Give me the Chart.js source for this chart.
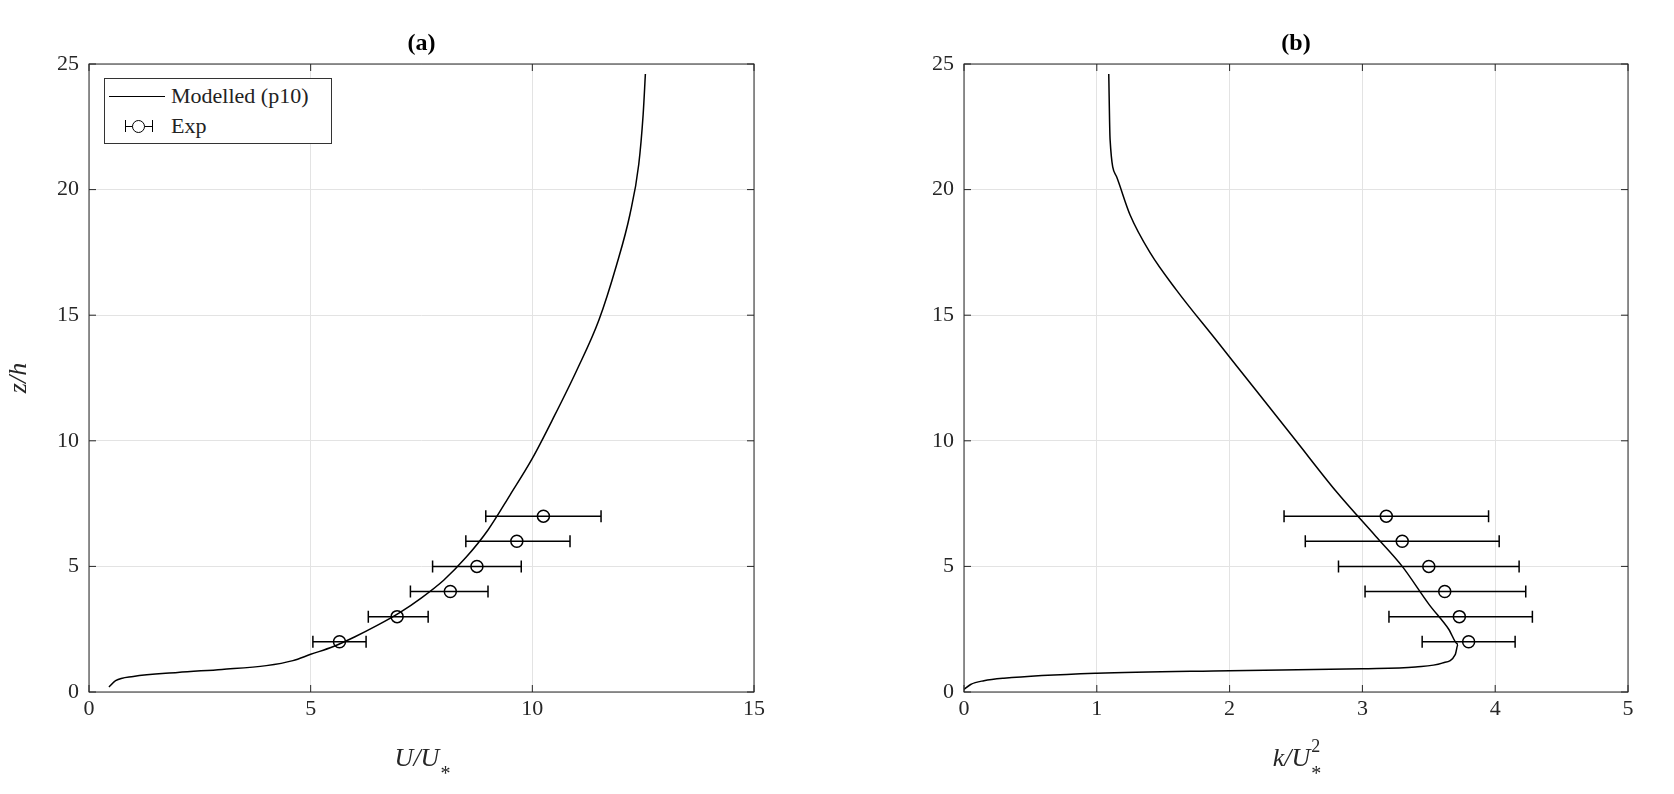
<!DOCTYPE html>
<html>
<head>
<meta charset="utf-8">
<script src="https://cdn.jsdelivr.net/npm/chart.js@4.4.1/dist/chart.umd.min.js"></script>
<style>
body { margin:0; background:#fff; width:1674px; height:794px; overflow:hidden; font-family:"Liberation Serif", serif; }
.panel { position:absolute; top:0; height:794px; }
#legend { position:absolute; left:104px; top:78px; width:226px; height:64px; border:1px solid #333; background:#fff; font-size:22px; color:#222; }
#legend div { position:relative; height:30px; line-height:30px; padding-left:66px; }
</style>
</head>
<body>
<div class="panel" style="left:0;width:800px"><canvas id="ca"></canvas></div>
<div class="panel" style="left:875px;width:799px"><canvas id="cb"></canvas></div>
<div id="legend">
  <div style="margin-top:2px"><span style="position:absolute;left:4px;top:15px;width:56px;border-top:1.5px solid #000"></span>Modelled (p10)</div>
  <div><span style="position:absolute;left:20px;top:15px;width:28px;border-top:1.5px solid #000"></span><span style="position:absolute;left:20px;top:9px;height:12px;border-left:1.5px solid #000"></span><span style="position:absolute;left:47px;top:9px;height:12px;border-left:1.5px solid #000"></span><span style="position:absolute;left:27px;top:9px;width:11px;height:11px;border:1.5px solid #000;border-radius:50%;background:#fff"></span>Exp</div>
</div>
<script>
// modelled profiles (x value, z/h)
var uModelX = [0.45,0.6,1,2,3,4,4.6,5,5.5,6,6.5,7,7.5,8,8.5,9,9.5,10,10.5,11,11.5,11.9,12.2,12.4,12.5,12.55];
var uModelZ = [0.2,0.45,0.62,0.78,0.9,1.05,1.25,1.5,1.8,2.2,2.65,3.15,3.75,4.45,5.35,6.45,7.85,9.3,11,12.8,14.8,17,19,21,23,24.6];
var kModelX = [0,0.05,0.15,0.3,1,2,3,3.4,3.6,3.7,3.72,3.65,3.5,3.3,3.1,2.8,2.5,2.2,1.9,1.6,1.4,1.25,1.15,1.1,1.09];
var kModelZ = [0.1,0.3,0.45,0.55,0.75,0.85,0.93,1.0,1.15,1.5,1.9,2.5,3.5,5,6.2,8,10,12,14,16,17.5,19,20.5,22,24.6];
// experiment
var expZ = [2,3,4,5,6,7];
var uExp = [5.65,6.95,8.15,8.75,9.65,10.25];
var uLo = [5.05,6.3,7.25,7.75,8.5,8.95];
var uHi = [6.25,7.65,9.0,9.75,10.85,11.55];
var kExp = [3.8,3.73,3.62,3.5,3.3,3.18];
var kLo = [3.45,3.2,3.02,2.82,2.57,2.41];
var kHi = [4.15,4.28,4.23,4.18,4.03,3.95];

function pts(xs, ys) { return xs.map(function(x, i) { return {x: x, y: ys[i]}; }); }

var frame = {
  id: 'frame',
  beforeDatasetsDraw: function(chart) {
    var c = chart.ctx, a = chart.chartArea, xs = chart.scales.x, ys = chart.scales.y;
    var o = chart.options.plugins.frame;
    c.save();
    c.strokeStyle = '#000'; c.lineWidth = 1.5;
    for (var i = 0; i < o.lo.length; i++) {
      var y = ys.getPixelForValue(expZ[i]);
      var x1 = xs.getPixelForValue(o.lo[i]), x2 = xs.getPixelForValue(o.hi[i]);
      c.beginPath();
      c.moveTo(x1, y); c.lineTo(x2, y);
      c.moveTo(x1, y - 6); c.lineTo(x1, y + 6);
      c.moveTo(x2, y - 6); c.lineTo(x2, y + 6);
      c.stroke();
    }
    c.restore();
  },
  afterDraw: function(chart) {
    var c = chart.ctx, a = chart.chartArea, xs = chart.scales.x, ys = chart.scales.y;
    var o = chart.options.plugins.frame;
    c.save();
    c.strokeStyle = '#262626'; c.lineWidth = 1;
    c.strokeRect(a.left, a.top, a.right - a.left, a.bottom - a.top);
    // inner ticks on all four sides
    c.beginPath();
    xs.ticks.forEach(function(t) { var x = xs.getPixelForValue(t.value);
      c.moveTo(x, a.bottom); c.lineTo(x, a.bottom - 7); c.moveTo(x, a.top); c.lineTo(x, a.top + 7); });
    ys.ticks.forEach(function(t) { var y = ys.getPixelForValue(t.value);
      c.moveTo(a.left, y); c.lineTo(a.left + 7, y); c.moveTo(a.right, y); c.lineTo(a.right - 7, y); });
    c.stroke();
    c.fillStyle = '#000';
    c.font = 'bold 24px "Liberation Serif"';
    c.textAlign = 'center';
    c.fillText(o.title, (a.left + a.right) / 2, 50);
    c.font = 'italic 26px "Liberation Serif"';
    c.fillStyle = '#262626';
    c.textAlign = 'left';
    var w = c.measureText(o.xlab).width + 14;
    var x0 = (a.left + a.right) / 2 - w / 2;
    c.fillText(o.xlab, x0, 766);
    c.font = '20px "Liberation Serif"';
    c.fillText('*', x0 + c.measureText ? x0 + w - 14 - 0 + 2 - x0 + x0 - x0 + 0 : 0, 0);
    c.restore();
  }
};

function sub(chart) {}

function makeChart(id, modelX, modelZ, ex, lo, hi, xmax, xstep, title, xlab, sup) {
  new Chart(document.getElementById(id), {
    type: 'scatter',
    data: { datasets: [
      { data: pts(modelX, modelZ), showLine: true, borderColor: '#000', borderWidth: 1.5, pointRadius: 0, tension: 0.4, cubicInterpolationMode: 'monotone' },
      { data: pts(ex, expZ), pointRadius: 6, pointBackgroundColor: 'rgba(255,255,255,0)', pointBorderColor: '#000', pointBorderWidth: 1.5 }
    ]},
    options: {
      responsive: false, animation: false,
      layout: { padding: { left: 0, right: 46, top: 64, bottom: 0 } },
      plugins: { legend: { display: false }, tooltip: { enabled: false },
        frame: { lo: lo, hi: hi, title: title, xlab: xlab, sup: sup } },
      scales: {
        x: { min: 0, max: xmax, ticks: { stepSize: xstep, color: '#262626', font: { family: 'Liberation Serif', size: 22 }, padding: 4 },
             grid: { color: '#e3e3e3', drawTicks: false }, border: { display: false },
             afterFit: function(s) { s.height = 102; } },
        y: { min: 0, max: 25, ticks: { stepSize: 5, color: '#262626', font: { family: 'Liberation Serif', size: 22 }, padding: 10 },
             grid: { color: '#e3e3e3', drawTicks: false }, border: { display: false },
             title: { display: id === 'ca', text: 'z/h', color: '#262626', font: { family: 'Liberation Serif', size: 26, style: 'italic' } },
             afterFit: function(s) { s.width = 89; } }
      }
    },
    plugins: [frame, {
      id: 'xlab',
      afterDraw: function(chart) {
        var c = chart.ctx, a = chart.chartArea;
        c.save();
        c.fillStyle = '#262626';
        c.font = 'italic 26px "Liberation Serif"';
        var w1 = c.measureText(xlab).width;
        c.font = '18px "Liberation Serif"';
        var w2 = c.measureText(sup ? '2' : '*').width;
        var x0 = (a.left + a.right) / 2 - (w1 + w2) / 2;
        c.clearRect(x0 - 5, 740, w1 + w2 + 30, 50);
        c.font = 'italic 26px "Liberation Serif"';
        c.textAlign = 'left';
        c.fillText(xlab, x0, 766);
        c.font = '20px "Liberation Serif"';
        c.fillText('*', x0 + w1 + 1, 780);
        if (sup) { c.font = '18px "Liberation Serif"'; c.fillText('2', x0 + w1 + 1, 752); }
        c.restore();
      }
    }]
  });
}

document.getElementById('ca').width = 800; document.getElementById('ca').height = 794;
document.getElementById('cb').width = 799; document.getElementById('cb').height = 794;
makeChart('ca', uModelX, uModelZ, uExp, uLo, uHi, 15, 5, '(a)', 'U/U', false);
makeChart('cb', kModelX, kModelZ, kExp, kLo, kHi, 5, 1, '(b)', 'k/U', true);
</script>
</body>
</html>
